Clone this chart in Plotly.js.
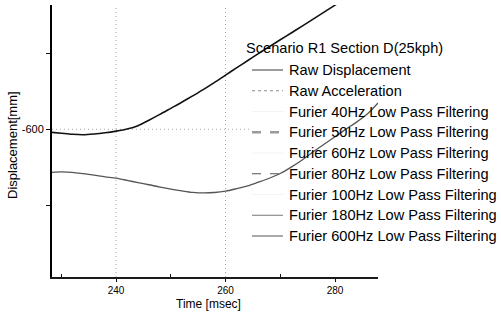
<!DOCTYPE html>
<html>
<head>
<meta charset="utf-8">
<script src="https://cdn.plot.ly/plotly-3.0.1.min.js"></script>
<style>
  html, body { margin: 0; padding: 0; background: #fff; }
  #chart { width: 501px; height: 322px; }
</style>
</head>
<body>
<div id="chart"></div>
<script>
// Time base (msec) and displacement (mm) for each recorded curve
const timeDisp = [228.3, 230, 232, 234, 236, 238, 240, 242, 244, 246, 248, 250, 252, 254,
                  256, 258, 260, 262, 264, 266, 268, 270, 272, 274, 276, 278, 280, 282];
const rawDisplacement = [-602.0, -602.6, -603.3, -603.6, -603.1, -602.3, -601.2, -599.8, -597.6,
                         -594.0, -590.2, -586.2, -582.2, -578.0, -573.7, -569.1, -564.3, -559.6,
                         -554.9, -550.2, -545.6, -541.1, -536.6, -532.1, -527.5, -522.9, -518.3, -513.6];

const timeAcc = [228.3, 230, 232, 234, 236, 238, 240, 242, 244, 246, 248, 250, 252, 254, 256,
                 258, 260, 262, 264, 266, 268, 270, 272, 274, 276, 278, 280, 282, 284, 286, 287.85];
const rawAcceleration = [-628.3, -628.0, -628.3, -629.2, -630.2, -631.3, -632.2, -633.6, -635.1,
                         -636.5, -638.0, -639.3, -640.5, -641.5, -641.9, -641.6, -640.7, -639.1,
                         -637.3, -634.8, -632.2, -629.1, -624.9, -620.2, -614.8, -609.8, -604.9,
                         -599.9, -595.1, -589.6, -582.7];

const legendTitle = 'Scenario R1 Section D(25kph)';
const seriesNames = [
  'Raw Displacement',
  'Raw Acceleration',
  'Furier 40Hz Low Pass Filtering',
  'Furier 50Hz Low Pass Filtering',
  'Furier 60Hz Low Pass Filtering',
  'Furier 80Hz Low Pass Filtering',
  'Furier 100Hz Low Pass Filtering',
  'Furier 180Hz Low Pass Filtering',
  'Furier 600Hz Low Pass Filtering'
];

const xTickVals = [240, 260, 280];
const xMinorVals = [230, 250, 270];
const yTickVals = [-650, -600, -550];
const yTickText = ['', '-600', ''];
const gridTimes = [240, 260];
const gridDisp = [-600];

const xTitle = 'Time [msec]';
const yTitle = 'Displacement[mm]';

// ---- styling / geometry ----
const FONT = 'Liberation Sans, Arial, Helvetica, sans-serif';
const W = 501, H = 322;
const M = { l: 52, r: 123, t: 5, b: 45 };
const plotW = W - M.l - M.r;
const plotH = H - M.t - M.b;
const pxX = px => (px - M.l) / plotW;          // pixel column -> paper x
const pxY = py => (H - M.b - py) / plotH;      // pixel row -> paper y

const curveStyles = [
  { color: '#111111', width: 1.6 },
  { color: '#555555', width: 1.3 }
];

const sampleStyles = [
  { color: '#3a3a3a', width: 1,   dash: 'solid' },
  { color: '#8a8a8a', width: 1,   dash: 'dot' },
  { color: '#f3f3f3', width: 1,   dash: 'solid' },
  { color: '#9a9a9a', width: 2.5, dash: 'dash' },
  { color: '#f3f3f3', width: 1,   dash: 'solid' },
  { color: '#555555', width: 1,   dash: 'dash' },
  { color: '#f3f3f3', width: 1,   dash: 'solid' },
  { color: '#777777', width: 1,   dash: 'solid' },
  { color: '#555555', width: 1,   dash: 'solid' }
];

const traces = [
  {
    x: timeDisp, y: rawDisplacement, name: seriesNames[0],
    type: 'scatter', mode: 'lines',
    line: { color: curveStyles[0].color, width: curveStyles[0].width, shape: 'spline', smoothing: 0.8 },
    showlegend: false, hoverinfo: 'skip'
  },
  {
    x: timeAcc, y: rawAcceleration, name: seriesNames[1],
    type: 'scatter', mode: 'lines',
    line: { color: curveStyles[1].color, width: curveStyles[1].width, shape: 'spline', smoothing: 0.8 },
    showlegend: false, hoverinfo: 'skip'
  }
];

// dotted grid lines
const GRID = { color: '#a8a8a8', width: 1, dash: '1px,3px' };
const shapes = [];
gridTimes.forEach(t => shapes.push({
  type: 'line', xref: 'x', yref: 'paper', x0: t, x1: t, y0: 0, y1: 1,
  line: GRID, layer: 'below'
}));
gridDisp.forEach(v => shapes.push({
  type: 'line', xref: 'paper', yref: 'y', x0: 0, x1: pxX(250), y0: v, y1: v,
  line: GRID, layer: 'below'
}));

// legend block: title, sample lines and labels
const annotations = [];
const LEG_TEXT_X = 287, LEG_SAMPLE_X0 = 252, LEG_SAMPLE_X1 = 283;
const LEG_ROW0 = 70, LEG_STEP = 20.75, LEG_FONT = 14.6;

annotations.push({
  xref: 'paper', yref: 'paper', x: pxX(244), y: pxY(48),
  xanchor: 'left', yanchor: 'middle', showarrow: false,
  text: legendTitle, font: { family: FONT, size: LEG_FONT, color: '#000' }
});
seriesNames.forEach((name, i) => {
  const rowY = LEG_ROW0 + i * LEG_STEP;
  annotations.push({
    xref: 'paper', yref: 'paper', x: pxX(LEG_TEXT_X), y: pxY(rowY),
    xanchor: 'left', yanchor: 'middle', showarrow: false,
    text: name, font: { family: FONT, size: LEG_FONT, color: '#000' }
  });
  const s = sampleStyles[i];
  shapes.push({
    type: 'line', xref: 'paper', yref: 'paper',
    x0: pxX(LEG_SAMPLE_X0), x1: pxX(LEG_SAMPLE_X1), y0: pxY(rowY), y1: pxY(rowY),
    line: { color: s.color, width: s.width, dash: s.dash }
  });
});

// axis titles
annotations.push({
  xref: 'paper', yref: 'paper', x: pxX(208), y: pxY(304),
  xanchor: 'center', yanchor: 'middle', showarrow: false,
  text: xTitle, font: { family: FONT, size: 12, color: '#000' }
});
annotations.push({
  xref: 'paper', yref: 'paper', x: pxX(12), y: pxY(145),
  xanchor: 'center', yanchor: 'middle', showarrow: false, textangle: -90,
  text: yTitle, font: { family: FONT, size: 13, color: '#000' }
});

const layout = {
  width: W, height: H,
  margin: M,
  paper_bgcolor: '#fff', plot_bgcolor: '#fff',
  showlegend: false,
  font: { family: FONT, color: '#000' },
  xaxis: {
    range: [228.3, 287.85],
    tickmode: 'array', tickvals: xTickVals,
    ticks: 'outside', ticklen: 3, tickwidth: 1, tickcolor: '#111',
    tickfont: { family: FONT, size: 10, color: '#000' },
    showline: true, linecolor: '#1a1a1a', linewidth: 1.5,
    showgrid: false, zeroline: false,
    minor: { tickmode: 'array', tickvals: xMinorVals, ticks: 'inside', ticklen: 3, tickcolor: '#111', showgrid: false }
  },
  yaxis: {
    range: [-697.2, -518.2],
    tickmode: 'array', tickvals: yTickVals, ticktext: yTickText,
    ticks: 'outside', ticklen: 4, tickwidth: 1, tickcolor: '#111',
    tickfont: { family: FONT, size: 11, color: '#000' },
    showline: true, linecolor: '#000', linewidth: 2,
    showgrid: false, zeroline: false
  },
  shapes: shapes,
  annotations: annotations
};

Plotly.newPlot('chart', traces, layout, { staticPlot: true, displayModeBar: false });
</script>
</body>
</html>
